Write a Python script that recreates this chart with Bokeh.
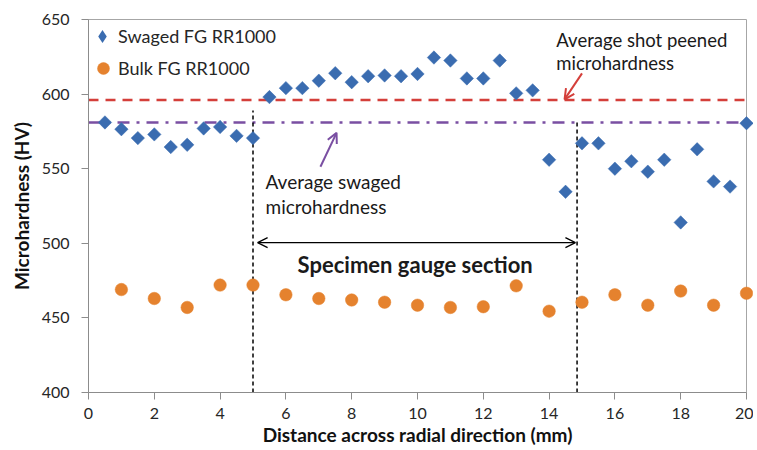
import numpy as np
from bokeh.plotting import figure
from bokeh.models import (Range1d, Legend, LegendItem, Label, Arrow, OpenHead,
                          FixedTicker, ColumnDataSource)
from bokeh.embed import file_html
from bokeh.resources import INLINE

# ---- data ----
swaged_x = [0.5, 1, 1.5, 2, 2.5, 3, 3.5, 4, 4.5, 5, 5.5, 6, 6.5, 7, 7.5, 8, 8.5, 9, 9.5, 10,
            10.5, 11, 11.5, 12, 12.5, 13, 13.5, 14, 14.5, 15, 15.5, 16, 16.5, 17, 17.5, 18,
            18.5, 19, 19.5, 20]
swaged_hv = [581, 576.5, 570.5, 573, 564.5, 566, 577, 578, 572, 570.5, 598, 604, 604, 609, 614,
             608, 612, 612.5, 612, 613.5, 624.5, 622.5, 610.5, 610.5, 622.5, 600.5, 602.5, 556,
             534.5, 567, 567, 550, 555, 548, 556, 514, 563, 541.5, 538, 580.5]
bulk_x = [1, 2, 3, 4, 5, 6, 7, 8, 9, 10, 11, 12, 13, 14, 15, 16, 17, 18, 19, 20]
bulk_hv = [469, 463, 457, 472, 472, 465.5, 463, 462, 460.5, 458.5, 457, 457.5, 471.5, 454.5,
           460.5, 465.5, 458.5, 468, 458.5, 466.5]
avg_shot_peened = 596
avg_swaged = 581
gauge_start = 5.0
gauge_end = 14.85
x_ticks = [0, 2, 4, 6, 8, 10, 12, 14, 16, 18, 20]
y_ticks = [400, 450, 500, 550, 600, 650]

BLUE = "#3A6CB0"
ORANGE = "#E5822E"
RED = "#D43F3A"
PURPLE = "#7A4FA2"
FONT = "Lato"

p = figure(width=753, height=448, output_backend="svg", toolbar_location=None,
           x_range=Range1d(0, 20), y_range=Range1d(400, 650),
           min_border_left=88, min_border_top=19, min_border_right=7, min_border_bottom=55)
p.background_fill_color = "white"
p.border_fill_color = "white"
p.outline_line_color = "#A6A6A6"
p.xgrid.visible = False
p.ygrid.visible = False

for ax in (p.xaxis[0], p.yaxis[0]):
    ax.axis_line_color = "#8C8C8C"
    ax.major_tick_line_color = "#8C8C8C"
    ax.minor_tick_line_color = None
    ax.major_tick_in = 0
    ax.major_tick_out = 7
    ax.major_label_text_font = FONT
    ax.major_label_text_font_size = "16px"
    ax.major_label_text_color = "#262626"
    ax.axis_label_text_font = FONT
    ax.axis_label_text_font_size = "19px"
    ax.axis_label_text_font_style = "bold"
    ax.axis_label_text_color = "#111111"

p.xaxis[0].ticker = FixedTicker(ticks=x_ticks)
p.yaxis[0].ticker = FixedTicker(ticks=y_ticks)
p.xaxis[0].major_label_standoff = 8
p.yaxis[0].major_label_standoff = 12
p.xaxis[0].axis_label_standoff = 1
p.yaxis[0].axis_label_standoff = 6
p.xaxis[0].axis_label = "Distance across radial direction (mm)"
p.yaxis[0].axis_label = "Microhardness (HV)"

# reference lines
p.line(x=[0, 20], y=[avg_shot_peened, avg_shot_peened], line_color=RED, line_width=2.5,
       line_dash="10 7")
p.line(x=[0, 20], y=[avg_swaged, avg_swaged], line_color=PURPLE, line_width=2.5,
       line_dash="12 7 3 7")
p.segment(x0=[gauge_start, gauge_end], y0=[400, 400], x1=[gauge_start, gauge_end],
          y1=[589, 582], line_color="black", line_width=1.5, line_dash="4 3")

src_s = ColumnDataSource(dict(x=swaged_x, y=swaged_hv))
src_b = ColumnDataSource(dict(x=bulk_x, y=bulk_hv))
r_s = p.scatter("x", "y", source=src_s, marker="square", angle=np.pi / 4, size=9.5,
                fill_color=BLUE, line_color=BLUE, line_width=0.5, level="overlay")
r_b = p.scatter("x", "y", source=src_b, marker="circle", size=12.5,
                fill_color=ORANGE, line_color=ORANGE, line_width=0.5, level="overlay")
# legend key for the diamond series (legend keys ignore marker angle; size 0 = not drawn in plot)
r_s_key = p.scatter("x", "y", source=src_s, marker="diamond", size=0, fill_color=BLUE,
                    line_color=None)

common = dict(background_fill_alpha=0, border_line_alpha=0, margin=0, padding=2,
              label_standoff=0, label_text_font=FONT, label_text_font_size="18px",
              label_text_color="#262626")
leg1 = Legend(items=[LegendItem(label="Swaged FG RR1000", renderers=[r_s_key])],
              location=(-4, 338), glyph_width=32, glyph_height=32, label_height=32, **common)
leg2 = Legend(items=[LegendItem(label="Bulk FG RR1000", renderers=[r_b])],
              location=(-2, 307), glyph_width=30, glyph_height=30, label_height=30, **common)
p.add_layout(leg1)
p.add_layout(leg2)

# annotations
def lab(x, y, text, size="19px", style="normal", align="left"):
    p.add_layout(Label(x=x, y=y, text=text, text_font=FONT, text_font_size=size,
                       text_font_style=style, text_align=align, text_baseline="middle",
                       text_color="#1a1a1a"))

lab(14.22, 636, "Average shot peened", size="18.5px")
lab(14.22, 620.6, "microhardness", size="18.5px")
lab(5.38, 541.5, "Average swaged")
lab(5.38, 524.5, "microhardness")
lab(9.93, 485.6, "Specimen gauge section", size="22px", style="bold", align="center")

p.add_layout(Arrow(x_start=15.0, y_start=613.9, x_end=14.47, y_end=596.5,
                   line_color=RED, line_width=2,
                   end=OpenHead(size=10, line_color=RED, line_width=2)))
p.add_layout(Arrow(x_start=7.05, y_start=551.3, x_end=7.54, y_end=574,
                   line_color=PURPLE, line_width=2,
                   end=OpenHead(size=10, line_color=PURPLE, line_width=2)))
p.add_layout(Arrow(x_start=5.14, y_start=500.5, x_end=14.8, y_end=500.5,
                   line_color="black", line_width=1.3,
                   start=OpenHead(size=10, line_color="black", line_width=1.3),
                   end=OpenHead(size=10, line_color="black", line_width=1.3)))

open("out.html", "w").write(file_html(p, INLINE))
